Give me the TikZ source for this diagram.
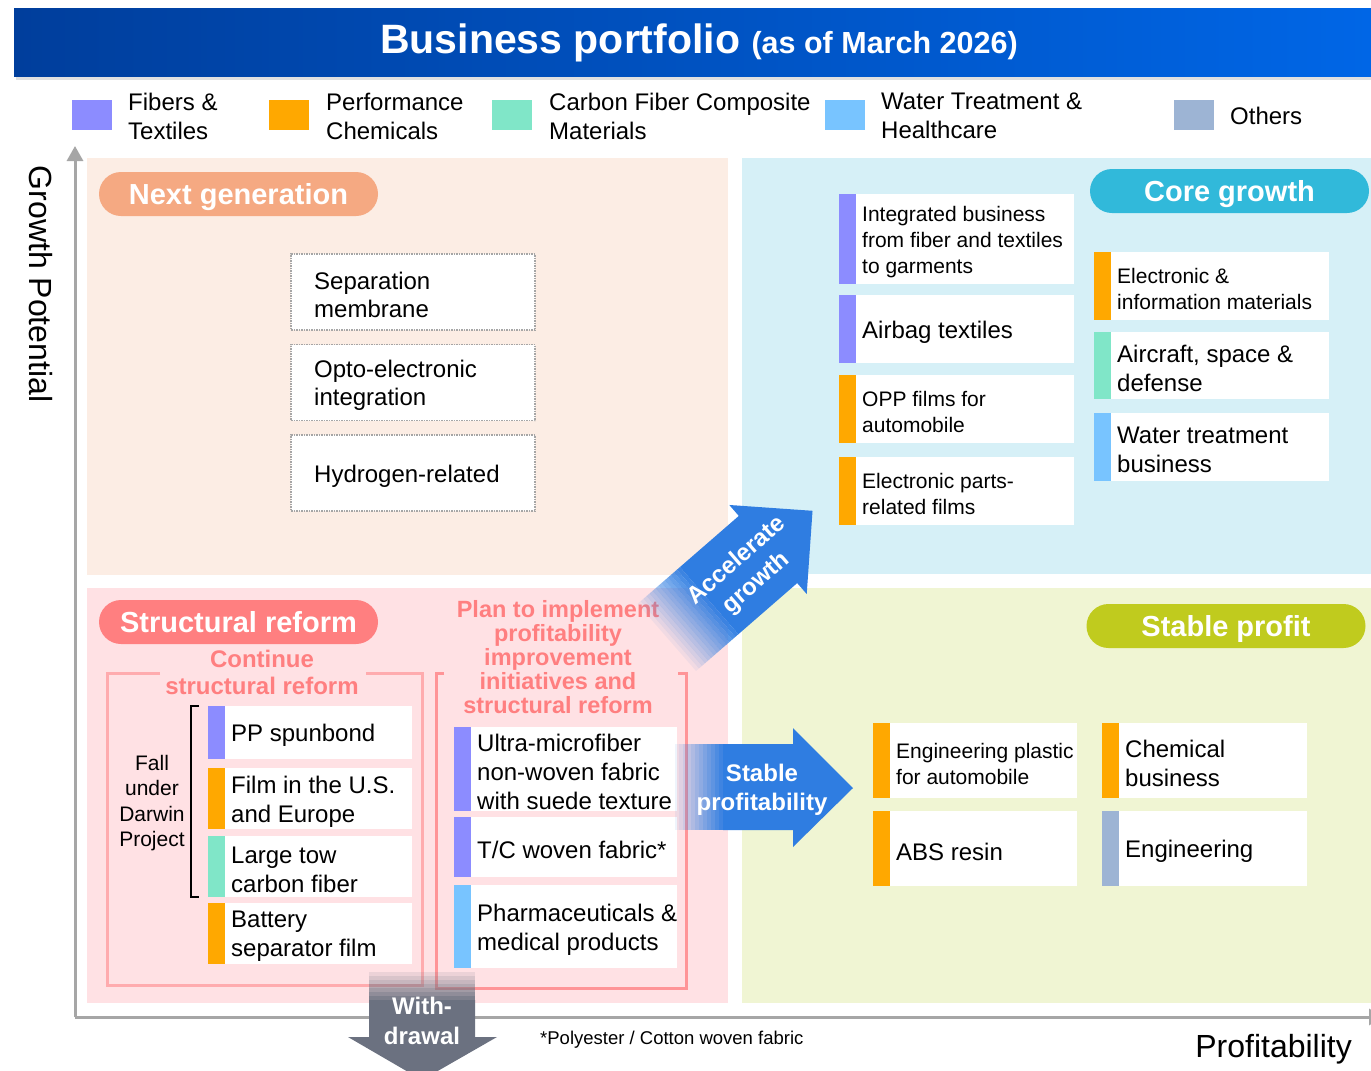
\documentclass[tikz,border=0pt]{standalone}
\usepackage{fontspec}
\setmainfont{Liberation Sans}
\usetikzlibrary{arrows.meta}

\definecolor{fibcol}{HTML}{8C8CFF}
\definecolor{perfcol}{HTML}{FFA800}
\definecolor{carbcol}{HTML}{80E6C8}
\definecolor{watercol}{HTML}{78C4FF}
\definecolor{othcol}{HTML}{9DB4D4}
\definecolor{titleleft}{HTML}{003E9C}
\definecolor{titleright}{HTML}{0066E6}
\definecolor{axisgray}{HTML}{A6A6A6}
\definecolor{nextbg}{HTML}{FCEDE4}
\definecolor{corebg}{HTML}{D6F0F7}
\definecolor{reformbg}{HTML}{FFE1E4}
\definecolor{stablebg}{HTML}{F0F5D3}
\definecolor{nextpill}{HTML}{F5A982}
\definecolor{corepill}{HTML}{31B9DA}
\definecolor{reformpill}{HTML}{FF7F80}
\definecolor{stablepill}{HTML}{C0CB1E}
\definecolor{pinktxt}{HTML}{FF7F80}
\definecolor{pinkframe}{HTML}{FFABAE}
\definecolor{pinkbracket}{HTML}{FF9497}
\definecolor{arrowblue}{HTML}{2F7DE1}
\definecolor{arrowgray}{HTML}{6B7180}

\tikzset{
	pill/.style={rounded corners=22pt, minimum width=279pt, minimum height=44pt, inner sep=0pt,
		text height=20.8pt, text depth=0pt, text=white, font=\fontsize{29}{34}\selectfont\bfseries},
	cardtext/.style={anchor=west, align=left, inner sep=0pt, yshift=-3pt, font=\fontsize{24}{29}\selectfont},
	smalltext/.style={cardtext, font=\fontsize{21}{26}\selectfont},
	dotbox/.style={draw=gray!70, densely dotted, line width=1.5pt, fill=white, minimum width=244pt,
		minimum height=76pt, inner sep=0pt},
	legendtext/.style={anchor=west, align=left, inner sep=0pt, font=\fontsize{24}{29}\selectfont},
	pinktext/.style={text=pinktxt, align=center, inner sep=0pt, font=\fontsize{23.5}{24}\selectfont\bfseries},
	arrowtext/.style={text=white, align=center, inner sep=0pt, font=\fontsize{24}{29.5}\selectfont\bfseries},
	axis/.style={draw=axisgray, line width=3pt},
}

% card: name, x1, y1, x2, y2, colour, text style, text
\newcommand{\bizcard}[8]{%
	\fill[white] (#2,#3) rectangle (#4,#5);
	\fill[#6] (#2,#3) rectangle ({#2+17},#5);
	\node[#7] (#1) at ({#2+23},{(#3+#5)/2}) {#8};
}

\begin{document}
\begin{tikzpicture}[x=1pt,y=-1pt]
	\clip (0,0) rectangle (1371,1071);
	\fill[white] (0,0) rectangle (1371,1071);
	
	% title
	\fill[black, opacity=0.12] (16,12) rectangle (1371,80);
	\shade[left color=titleleft, right color=titleright] (14,8) rectangle (1371,76);
	\node[text=white, inner sep=0pt] (title) at (699,43)
		{\fontsize{41}{46}\selectfont\bfseries Business portfolio {\fontsize{30.5}{34}\selectfont (as of March 2026)}};
	
	% legend
	\foreach \sx/\tx/\col/\txt in {72/128/fibcol/{Fibers \&\\Textiles}, 269/326/perfcol/{Performance\\Chemicals},
		492/549/carbcol/{Carbon Fiber Composite\\Materials}, 825/881/watercol/{Water Treatment \&\\Healthcare},
		1174/1230/othcol/{Others}} {
		\fill[\col] (\sx,100) rectangle ++(40,30);
		\node[legendtext] (leg-\col) at (\tx,116) {\txt};
	}
	
	% axes
	\coordinate (origin) at (75,1017);
	\coordinate (ytop) at (75,146);
	\coordinate (xend) at (1384,1017);
	\draw[axis, -{Triangle[length=15pt,width=16pt]}] (origin) -- (ytop);
	\draw[axis, -{Triangle[length=15pt,width=16pt]}] (origin) -- (xend);
	\node[rotate=-90, inner sep=0pt, font=\fontsize{32}{36}\selectfont] (ylabel) at (41,284) {Growth Potential};
	\node[anchor=east, inner sep=0pt, font=\fontsize{32}{36}\selectfont] (xlabel) at (1352,1049) {Profitability};
	
	% quadrants
	\fill[nextbg] (87,158) rectangle (728,575);
	\fill[corebg] (742,158) rectangle (1371,574);
	\fill[reformbg] (87,588) rectangle (728,1003);
	\fill[stablebg] (742,588) rectangle (1371,1003);
	
	\node[pill, fill=nextpill] (nextgen) at (238.5,194) {Next generation};
	\node[pill, fill=corepill] (core) at (1229.5,191) {Core growth};
	\node[pill, fill=reformpill] (reform) at (238.5,622) {Structural reform};
	\node[pill, fill=stablepill] (stable) at (1226,626) {Stable profit};
	
	% next generation
	\node[dotbox] (sepmem) at (413,292) {};
	\node[dotbox] (opto) at (413,382.5) {};
	\node[dotbox] (hydro) at (413,473) {};
	\node[cardtext, font=\fontsize{24}{28}\selectfont] (sepmem-t) at (314,292) {Separation\\membrane};
	\node[cardtext, font=\fontsize{24}{28}\selectfont] (opto-t) at (314,382.5) {Opto-electronic\\integration};
	\node[cardtext] (hydro-t) at (314,473) {Hydrogen-related};
	
	% core growth
	\bizcard{intbiz}{839}{194}{1074}{284}{fibcol}{smalltext}{Integrated business\\from fiber and textiles\\to garments}
	\bizcard{airbag}{839}{295}{1074}{363}{fibcol}{cardtext}{Airbag textiles}
	\bizcard{opp}{839}{375}{1074}{443}{perfcol}{smalltext}{OPP films for\\automobile}
	\bizcard{eparts}{839}{457}{1074}{525}{perfcol}{smalltext}{Electronic parts-\\related films}
	\bizcard{elinfo}{1094}{252}{1329}{320}{perfcol}{smalltext}{Electronic \&\\information materials}
	\bizcard{aircraft}{1094}{332}{1329}{399}{carbcol}{cardtext}{Aircraft, space \&\\defense}
	\bizcard{watertr}{1094}{413}{1329}{481}{watercol}{cardtext}{Water treatment\\business}
	
	% stable profit
	\bizcard{engplastic}{873}{723}{1077}{798}{perfcol}{smalltext}{Engineering plastic\\for automobile}
	\bizcard{abs}{873}{811}{1077}{886}{perfcol}{cardtext}{ABS resin}
	\bizcard{chem}{1102}{723}{1307}{798}{perfcol}{cardtext}{Chemical\\business}
	\bizcard{eng}{1102}{811}{1307}{886}{othcol}{cardtext}{Engineering}
	
	% structural reform
	\draw[pinkframe, line width=3pt] (160,673) -- (107,673) -- (107,985) -- (422,985) -- (422,673) -- (366,673);
	\node[pinktext, font=\fontsize{24}{27}\selectfont\bfseries] (contin) at (262,672) {Continue\\structural reform};
	\draw[pinkbracket, line width=3pt] (444,673) -- (436,673) -- (436,988) -- (686,988) -- (686,673) -- (678,673);
	\node[pinktext] (plan) at (558,657) {Plan to implement\\profitability\\improvement\\initiatives and\\structural reform};
	
	\bizcard{ppspun}{208}{706}{412}{759}{fibcol}{cardtext}{PP spunbond}
	\bizcard{filmus}{208}{768}{412}{829}{perfcol}{cardtext}{Film in the U.S.\\and Europe}
	\bizcard{largetow}{208}{836}{412}{897}{carbcol}{cardtext}{Large tow\\carbon fiber}
	\bizcard{battery}{208}{903}{412}{964}{perfcol}{cardtext}{Battery\\separator film}
	\draw[black, line width=1.5pt] (199,706) -- (191,706) -- (191,897) -- (199,897);
	\node[align=center, inner sep=0pt, font=\fontsize{21}{25.5}\selectfont] (darwin) at (152,803) {Fall\\under\\Darwin\\Project};
	
	\bizcard{ultra}{454}{727}{677}{811}{fibcol}{cardtext}{Ultra-microfiber\\non-woven fabric\\with suede texture}
	\bizcard{tcwoven}{454}{817}{677}{877}{fibcol}{cardtext}{T/C woven fabric*}
	\bizcard{pharma}{454}{885}{677}{968}{watercol}{cardtext}{Pharmaceuticals \&\\medical products}
	
	% arrows
	\begin{scope}[shift={(768,549.5)}, rotate=41]
		\fill[arrowblue] (-78,-44.5) -- (0,-44.5) -- (0,-59) -- (59,0) -- (0,59) -- (0,44.5) -- (-78,44.5) -- cycle;
		\foreach \i [evaluate=\i as \op using \i/15] in {1,...,14}
			\fill[arrowblue, opacity=\op] ({-134+4*(\i-1)},-44.5) rectangle ++(4,89);
		\node[arrowtext, transform shape] (accel) at (-31,3) {Accelerate\\growth};
	\end{scope}
	
	\fill[arrowblue] (723,744) -- (793,744) -- (793,728) -- (853,788) -- (793,847) -- (793,830) -- (723,830) -- cycle;
	\foreach \i [evaluate=\i as \op using \i/13] in {1,...,12}
		\fill[arrowblue, opacity=\op] ({675+4*(\i-1)},744) rectangle ++(4,86);
	\node[arrowtext] (stabprof) at (762,790) {Stable\\profitability};
	
	\fill[arrowgray] (369,1000) -- (369,1037) -- (348,1037) -- (422,1080) -- (497,1037) -- (475,1037) -- (475,1000) -- cycle;
	\foreach \i [evaluate=\i as \op using \i/8] in {1,...,7}
		\fill[arrowgray, opacity=\op] (369,{972+4*(\i-1)}) rectangle ++(106,4);
	\node[arrowtext] (withdraw) at (422,1021) {With-\\drawal};
	
	\node[anchor=west, inner sep=0pt, font=\fontsize{18.5}{22}\selectfont] (note) at (540,1040) {*Polyester / Cotton woven fabric};
\end{tikzpicture}
\end{document}
